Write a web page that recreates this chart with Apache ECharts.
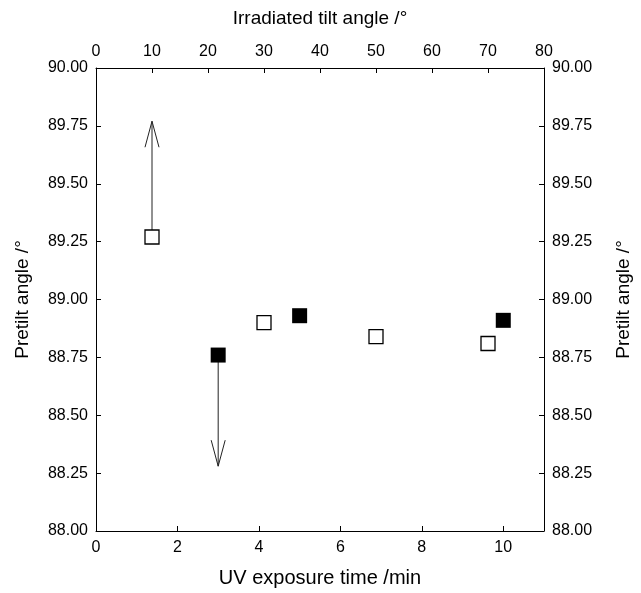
<!DOCTYPE html>
<html>
<head>
<meta charset="utf-8">
<script src="https://cdn.jsdelivr.net/npm/echarts@6/dist/echarts.min.js"></script>
<style>
html,body{margin:0;padding:0;background:#fff;}
#chart{width:641px;height:593px;}
</style>
</head>
<body>
<div id="chart"></div>
<script>
// Open squares: plotted against the top axis (irradiated tilt angle, °)
const tiltAngles = [10, 30, 50, 70];
const tiltPretilt = [89.27, 88.90, 88.84, 88.81];
// Filled squares: plotted against the bottom axis (UV exposure time, min)
const uvTimes = [3, 5, 10];
const uvPretilt = [88.76, 88.93, 88.91];
// Arrows: [x, from, to]
const tiltArrow = [[10, 89.27, 89.77]];
const uvArrow = [[3, 88.76, 88.28]];

const FONT = 'Liberation Sans';
const black = '#000';

function arrowRender(params, api) {
  const p0 = api.coord([api.value(0), api.value(1)]);
  const p1 = api.coord([api.value(0), api.value(2)]);
  const dir = Math.sign(p1[1] - p0[1]);
  const hw = 7, hl = 26;
  return {
    type: 'group',
    children: [
      {type: 'line', shape: {x1: p0[0], y1: p0[1], x2: p1[0], y2: p1[1]}, style: {stroke: '#222', lineWidth: 1}},
      {type: 'polyline', shape: {points: [[p1[0] - hw, p1[1] - dir * hl], [p1[0], p1[1]], [p1[0] + hw, p1[1] - dir * hl]]},
        style: {stroke: '#222', fill: null, lineWidth: 1}}
    ]
  };
}

const axisCommon = {
  type: 'value',
  axisLine: {show: true, onZero: false, lineStyle: {color: black, width: 1}},
  axisTick: {show: true, inside: true, length: 5, lineStyle: {color: black}},
  splitLine: {show: false},
  axisLabel: {color: black, fontFamily: FONT, fontSize: 16},
  nameTextStyle: {color: black, fontFamily: FONT, fontSize: 19},
  nameLocation: 'middle'
};

const chart = echarts.init(document.getElementById('chart'), null, {renderer: 'canvas'});
chart.setOption({
  animation: false,
  backgroundColor: '#fff',
  grid: {left: 96, top: 68, width: 472, height: 472, containLabel: false},
  xAxis: [
    Object.assign({}, axisCommon, {
      position: 'bottom', min: 0, max: 11, interval: 2,
      name: 'UV exposure time /min', nameGap: 37,
      nameTextStyle: Object.assign({}, axisCommon.nameTextStyle, {fontSize: 20}),
      axisLabel: Object.assign({}, axisCommon.axisLabel, {margin: 9, showMaxLabel: false,
        formatter: v => (v === 11 ? '' : String(v))})
    }),
    Object.assign({}, axisCommon, {
      position: 'top', min: 0, max: 80, interval: 10,
      name: 'Irradiated tilt angle /°', nameGap: 40,
      axisLabel: Object.assign({}, axisCommon.axisLabel, {margin: 8})
    })
  ],
  yAxis: [
    Object.assign({}, axisCommon, {
      position: 'left', min: 88, max: 90, interval: 0.25,
      name: 'Pretilt angle /°', nameGap: 64, nameRotate: 90,
      axisLabel: Object.assign({}, axisCommon.axisLabel, {margin: 8, formatter: v => v.toFixed(2)})
    }),
    Object.assign({}, axisCommon, {
      position: 'right', min: 88, max: 90, interval: 0.25,
      name: 'Pretilt angle /°', nameGap: 70, nameRotate: 90,
      axisLabel: Object.assign({}, axisCommon.axisLabel, {margin: 8, formatter: v => v.toFixed(2)})
    })
  ],
  series: [
    {
      type: 'custom', xAxisIndex: 1, yAxisIndex: 0, z: 1,
      renderItem: arrowRender, data: tiltArrow, silent: true
    },
    {
      type: 'custom', xAxisIndex: 0, yAxisIndex: 0, z: 1,
      renderItem: arrowRender, data: uvArrow, silent: true
    },
    {
      type: 'scatter', xAxisIndex: 1, yAxisIndex: 0, z: 5,
      symbol: 'rect', symbolSize: 14,
      itemStyle: {color: '#fff', borderColor: black, borderWidth: 1.3, opacity: 1},
      data: tiltAngles.map((x, i) => [x, tiltPretilt[i]])
    },
    {
      type: 'scatter', xAxisIndex: 0, yAxisIndex: 0, z: 5,
      symbol: 'rect', symbolSize: 15,
      itemStyle: {color: black, borderColor: black, borderWidth: 0, opacity: 1},
      data: uvTimes.map((x, i) => [x, uvPretilt[i]])
    }
  ]
});
</script>
</body>
</html>
